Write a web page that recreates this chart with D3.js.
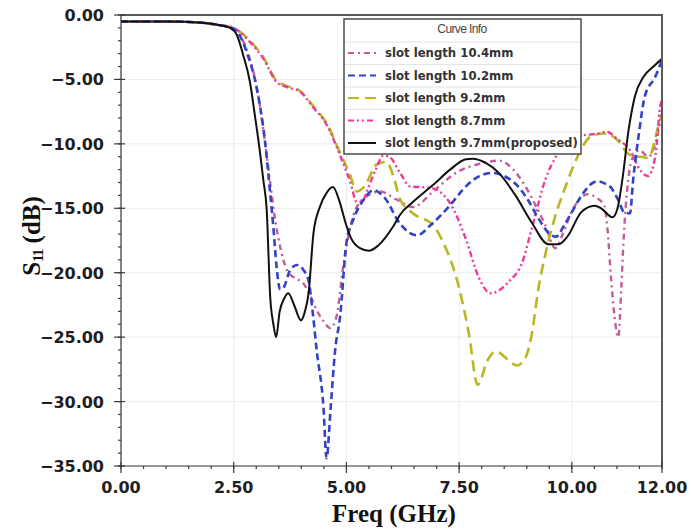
<!DOCTYPE html>
<html>
<head>
<meta charset="utf-8">
<script src="https://cdn.jsdelivr.net/npm/d3@7"></script>
<style>
  body { margin: 0; background: #fff; }
  svg { display: block; }
</style>
</head>
<body>
<svg id="chart" width="691" height="529"></svg>
<script>
// Axis ticks
const freqTicks = [0, 2.5, 5, 7.5, 10, 12];
const dbTicks = [0, -5, -10, -15, -20, -25, -30, -35];

// Legend labels (same order as the series below)
const seriesNames = [
  "slot length 10.4mm",
  "slot length 10.2mm",
  "slot length 9.2mm",
  "slot length 8.7mm",
  "slot length 9.7mm(proposed)"
];

// S11 in dB versus frequency in GHz, one [freq, dB] list per slot length
const slot10_4 = [[0,-0.5],[1,-0.5],[1.8,-0.6],[2.2,-0.8],[2.48,-1.0],[2.62,-1.5],[2.82,-3.0],[3.02,-5.8],[3.2,-10.0],[3.32,-13.3],[3.42,-15.9],[3.55,-18.3],[3.68,-19.8],[3.85,-20.4],[4.04,-20.8],[4.2,-21.8],[4.34,-22.9],[4.5,-23.8],[4.64,-24.3],[4.78,-23.4],[4.93,-19.5],[5.15,-15.6],[5.4,-14.2],[5.75,-13.7],[6.1,-14.3],[6.48,-14.9],[6.92,-13.7],[7.43,-12.25],[8.02,-11.5],[8.38,-11.3],[8.7,-12.0],[8.97,-13.3],[9.2,-14.8],[9.41,-16.3],[9.63,-18.1],[9.8,-17.0],[9.99,-15.3],[10.2,-14.2],[10.36,-13.9],[10.55,-14.2],[10.72,-14.8],[10.79,-16.6],[10.87,-20.4],[10.95,-23.5],[11.03,-25.0],[11.1,-21.0],[11.14,-18.0],[11.25,-12.8],[11.36,-11.0],[11.5,-10.5],[11.7,-11.0],[11.85,-10.0],[12,-7.5]];

const slot10_2 = [[0,-0.5],[1,-0.5],[1.8,-0.6],[2.2,-0.8],[2.45,-1.0],[2.6,-1.4],[2.8,-3.0],[3.0,-5.5],[3.2,-10.0],[3.3,-13.5],[3.38,-16.5],[3.45,-19.5],[3.53,-21.3],[3.6,-21.2],[3.75,-19.8],[3.9,-19.4],[4.05,-19.8],[4.16,-20.6],[4.25,-23.0],[4.34,-26.0],[4.49,-30.4],[4.56,-34.4],[4.65,-30.5],[4.75,-26.0],[4.86,-23.4],[5.0,-17.7],[5.15,-15.9],[5.37,-14.4],[5.6,-13.6],[5.85,-14.2],[6.19,-16.2],[6.56,-17.1],[6.9,-16.2],[7.29,-14.8],[7.65,-13.3],[7.95,-12.5],[8.24,-12.25],[8.5,-12.5],[8.75,-13.1],[9.0,-14.2],[9.26,-15.8],[9.55,-17.1],[9.65,-17.2],[9.85,-16.2],[10.21,-14.05],[10.4,-13.2],[10.57,-12.9],[10.75,-13.1],[10.87,-13.4],[11.02,-14.3],[11.16,-15.3],[11.29,-15.4],[11.36,-12.8],[11.48,-9.4],[11.62,-6.3],[11.85,-4.8],[12,-3.5]];

const slot9_2 = [[0,-0.5],[1,-0.5],[1.8,-0.6],[2.2,-0.8],[2.49,-1.0],[2.86,-2.0],[3.16,-3.3],[3.45,-5.1],[3.68,-5.5],[3.97,-5.9],[4.27,-7.1],[4.56,-8.4],[4.86,-10.7],[5.08,-12.4],[5.23,-13.7],[5.4,-13.3],[5.67,-11.6],[5.89,-11.4],[6.05,-12.6],[6.19,-14.3],[6.48,-15.4],[6.92,-16.3],[7.14,-17.6],[7.5,-21.2],[7.72,-24.8],[7.91,-28.7],[8.13,-26.8],[8.31,-26.1],[8.6,-26.8],[8.78,-27.2],[8.97,-26.6],[9.11,-24.8],[9.26,-21.2],[9.41,-18.6],[9.55,-16.6],[9.84,-13.5],[10.14,-10.9],[10.43,-9.4],[10.72,-9.2],[11.01,-9.7],[11.23,-10.7],[11.4,-11.0],[11.55,-11.0],[11.7,-11.1],[11.9,-8.9],[12,-7.8]];

const slot8_7 = [[0,-0.5],[1,-0.5],[1.8,-0.6],[2.2,-0.8],[2.49,-1.0],[2.86,-2.1],[3.16,-3.4],[3.45,-5.2],[3.68,-5.6],[3.97,-5.95],[4.27,-7.2],[4.56,-8.5],[4.86,-10.9],[5.08,-12.9],[5.23,-14.5],[5.35,-14.5],[5.45,-13.7],[5.65,-12.0],[5.82,-10.9],[5.95,-11.0],[6.19,-12.25],[6.41,-13.3],[6.85,-13.4],[7.29,-14.55],[7.65,-17.4],[7.94,-20.4],[8.2,-21.6],[8.6,-20.7],[8.9,-19.2],[9.11,-16.6],[9.41,-12.8],[9.7,-10.7],[10.14,-9.4],[10.58,-9.2],[10.77,-9.05],[11.0,-9.6],[11.29,-10.5],[11.51,-12.0],[11.69,-12.5],[11.85,-11.0],[11.96,-7.1],[12,-6.5]];

const slot9_7 = [[0,-0.5],[1,-0.5],[1.8,-0.6],[2.2,-0.8],[2.42,-1.0],[2.57,-1.55],[2.71,-3.1],[2.86,-5.2],[2.97,-7.8],[3.07,-10.3],[3.16,-12.9],[3.23,-15.0],[3.31,-21.9],[3.38,-24.0],[3.44,-25.0],[3.52,-23.0],[3.62,-22.0],[3.71,-21.6],[3.85,-22.6],[3.99,-23.7],[4.08,-23.0],[4.16,-21.6],[4.27,-16.9],[4.41,-14.9],[4.56,-13.8],[4.7,-13.35],[4.85,-14.5],[4.97,-16.0],[5.1,-17.3],[5.3,-18.1],[5.5,-18.3],[5.7,-17.9],[6.04,-16.4],[6.19,-15.5],[6.48,-14.5],[6.92,-13.2],[7.3,-12.0],[7.65,-11.2],[7.8,-11.15],[8.1,-11.5],[8.38,-12.25],[8.75,-14.0],[9.11,-16.1],[9.48,-17.8],[9.7,-17.8],[9.9,-17.2],[10.21,-15.3],[10.5,-14.8],[10.65,-15.0],[10.9,-15.7],[11.01,-15.05],[11.12,-12.8],[11.26,-8.9],[11.4,-6.3],[11.59,-4.8],[11.81,-4.0],[12,-3.4]];

const seriesData = [slot10_4, slot10_2, slot9_2, slot8_7, slot9_7];
const seriesColors = ["#c45c9a", "#3342c8", "#b9b623", "#f0399c", "#111111"];
const seriesDash = ["6,4,2,4", "7,4", "11,6", "6,3,2,3,2,3", null];
const seriesWidth = [2.4, 2.6, 2.6, 2.4, 2.0];

const svg = d3.select("#chart");
const x = d3.scaleLinear().domain([0, 12]).range([121, 662]);
const y = d3.scaleLinear().domain([0, -35]).range([15, 466]);

// faint grid
const grid = svg.append("g").attr("stroke", "#ececec").attr("stroke-width", 1);
grid.selectAll(".gx").data(freqTicks).join("line")
  .attr("x1", d => x(d)).attr("x2", d => x(d)).attr("y1", y(0)).attr("y2", y(-35));
grid.selectAll(".gy").data(dbTicks).join("line")
  .attr("x1", x(0)).attr("x2", x(12)).attr("y1", d => y(d)).attr("y2", d => y(d));

// curves
svg.append("clipPath").attr("id", "plotClip").append("rect")
  .attr("x", x(0)).attr("y", y(0) - 2).attr("width", x(12) - x(0)).attr("height", y(-35) - y(0) + 2);

const line = d3.line().x(d => x(d[0])).y(d => y(d[1])).curve(d3.curveMonotoneX);
const curves = svg.append("g").attr("clip-path", "url(#plotClip)");
[0, 2, 3, 1, 4].forEach(i => {
  curves.append("path")
    .datum(seriesData[i])
    .attr("fill", "none")
    .attr("stroke", seriesColors[i])
    .attr("stroke-width", seriesWidth[i])
    .attr("stroke-dasharray", seriesDash[i])
    .attr("stroke-linejoin", "round")
    .attr("d", line);
});

// frame: top and right borders
const frame = svg.append("g").attr("stroke", "#5a5a5a").attr("stroke-width", 2).attr("fill", "none");
frame.append("line").attr("x1", x(0)).attr("x2", x(12) + 1).attr("y1", y(0)).attr("y2", y(0));
frame.append("line").attr("x1", x(12)).attr("x2", x(12)).attr("y1", y(0)).attr("y2", y(-35));

// axes
const axes = svg.append("g").attr("stroke", "#3a3a3a").attr("stroke-width", 1.2);
axes.append("line").attr("x1", x(0)).attr("x2", x(0)).attr("y1", y(0)).attr("y2", y(-35));
axes.append("line").attr("x1", x(0)).attr("x2", x(12)).attr("y1", y(-35)).attr("y2", y(-35));

// y ticks: majors cross the axis, minors every 1 dB outside
axes.selectAll(".ym").data(d3.range(0, -35.5, -1)).join("line")
  .attr("x1", x(0) - 3).attr("x2", x(0)).attr("y1", d => y(d)).attr("y2", d => y(d));
axes.selectAll(".yM").data(dbTicks).join("line")
  .attr("x1", x(0) - 7).attr("x2", x(0) + 4).attr("y1", d => y(d)).attr("y2", d => y(d));

// x ticks: minors every 0.5 GHz
axes.selectAll(".xm").data(d3.range(0, 12.01, 0.5)).join("line")
  .attr("x1", d => x(d)).attr("x2", d => x(d)).attr("y1", y(-35)).attr("y2", y(-35) + 3);
axes.selectAll(".xM").data(freqTicks).join("line")
  .attr("x1", d => x(d)).attr("x2", d => x(d)).attr("y1", y(-35) - 4).attr("y2", y(-35) + 7);

// tick labels
const fmt = d3.format(".2f");
svg.append("g").selectAll("text").data(dbTicks).join("text")
  .attr("x", 104).attr("y", d => y(d) + 6)
  .attr("text-anchor", "end")
  .attr("font-family", "DejaVu Sans, sans-serif").attr("font-weight", "bold")
  .attr("font-size", 16).attr("fill", "#1e1e1e")
  .text(d => fmt(d));

svg.append("g").selectAll("text").data(freqTicks).join("text")
  .attr("x", d => x(d)).attr("y", 493)
  .attr("text-anchor", "middle")
  .attr("font-family", "DejaVu Sans, sans-serif").attr("font-weight", "bold")
  .attr("font-size", 16).attr("fill", "#1e1e1e")
  .text(d => fmt(d));

// axis titles
svg.append("text")
  .attr("x", 394).attr("y", 522)
  .attr("text-anchor", "middle")
  .attr("font-family", "Liberation Serif, Times New Roman, serif").attr("font-weight", "bold")
  .attr("font-size", 25).attr("fill", "#111")
  .text("Freq (GHz)");

const yTitle = svg.append("text")
  .attr("transform", "translate(40,236) rotate(-90)")
  .attr("text-anchor", "middle")
  .attr("font-family", "Liberation Serif, Times New Roman, serif").attr("font-weight", "bold")
  .attr("font-size", 25).attr("fill", "#111");
yTitle.append("tspan").text("S");
yTitle.append("tspan").attr("font-size", 15).attr("dy", 3).attr("letter-spacing", -1).text("11");
yTitle.append("tspan").attr("dy", -3).text(" (dB)");

// legend
const lg = svg.append("g");
lg.append("rect").attr("x", 344).attr("y", 19).attr("width", 237).attr("height", 135)
  .attr("fill", "#fff").attr("stroke", "#4a4a4a").attr("stroke-width", 1.5);
lg.append("text").attr("x", 462).attr("y", 33).attr("text-anchor", "middle")
  .attr("font-family", "Liberation Sans, Arial, sans-serif").attr("font-size", 12)
  .attr("letter-spacing", -0.6).attr("fill", "#444").text("Curve Info");
const rowY = [53, 75.5, 98, 120.5, 143];
lg.selectAll(".sep").data(rowY).join("line")
  .attr("x1", 345).attr("x2", 580)
  .attr("y1", d => d - 11).attr("y2", d => d - 11)
  .attr("stroke", "#e4e4e4").attr("stroke-width", 1);
seriesNames.forEach((name, i) => {
  lg.append("line")
    .attr("x1", 348).attr("x2", 376).attr("y1", rowY[i]).attr("y2", rowY[i])
    .attr("stroke", seriesColors[i]).attr("stroke-width", 2)
    .attr("stroke-dasharray", seriesDash[i]);
  lg.append("text")
    .attr("x", 385).attr("y", rowY[i] + 4)
    .attr("font-family", "DejaVu Sans, sans-serif").attr("font-weight", "bold")
    .attr("font-size", 11.7).attr("fill", "#333")
    .text(name);
});
</script>
</body>
</html>
